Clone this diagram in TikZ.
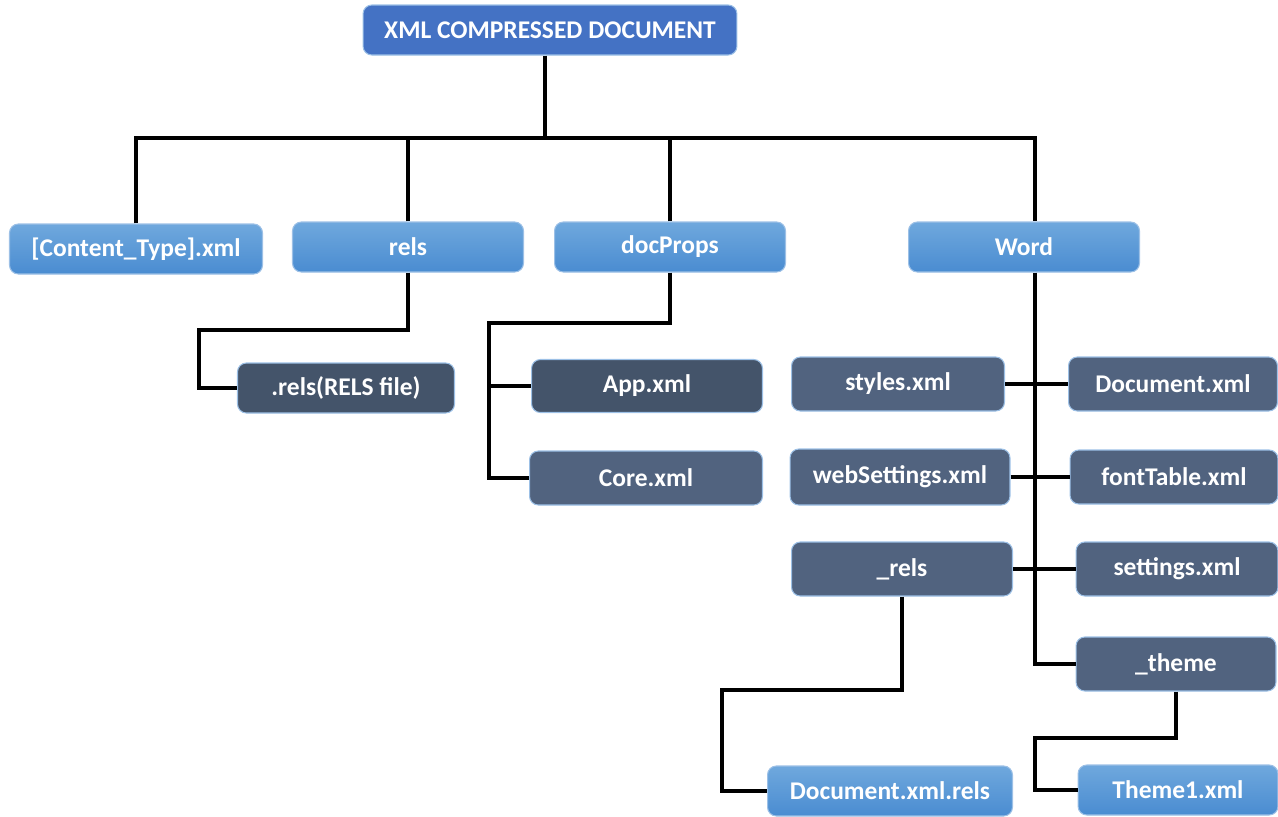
\documentclass[tikz,border=0pt]{standalone}
\usepackage{fontspec}
\setmainfont{Carlito}
\usepackage{tikz}
\usetikzlibrary{positioning}

\definecolor{topblue}{HTML}{4472C4}
\definecolor{lighttop}{HTML}{6FA8DD}
\definecolor{lightbot}{HTML}{4A8CD1}
\definecolor{slate}{HTML}{51637F}
\definecolor{deepslate}{HTML}{44546A}
\definecolor{rim}{HTML}{9CC0E6}

\tikzset{
  box/.style={rounded corners=5pt, draw=rim, line width=0.6pt, text=white,
    font=\fontsize{14.5}{16}\selectfont\bfseries, minimum height=1cm, inner sep=2pt},
  topbox/.style={box, fill=topblue},
  lightbox/.style={box, top color=lighttop, bottom color=lightbot},
  darkbox/.style={box, fill=slate},
  deepbox/.style={box, fill=deepslate},
  wire/.style={draw=black, line width=1.8pt}
}

\begin{document}
\begin{tikzpicture}[x=0.02cm, y=-0.02cm]
  \useasboundingbox (0,0) rectangle (1278,816);

  % Define nodes
  \node[topbox, minimum width=7.48cm]   (xml)      at (550,30)  {XML COMPRESSED DOCUMENT};
  \node[lightbox, minimum width=5.06cm] (ctype)    at (136,249) {[Content\_Type].xml};
  \node[lightbox, minimum width=4.62cm] (rels)     at (408,247) {rels};
  \node[lightbox, minimum width=4.62cm] (docprops) at (670,247) {docProps};
  \node[lightbox, minimum width=4.62cm] (word)     at (1024,247) {Word};

  \node[deepbox, minimum width=4.34cm]  (relsfile) at (346,388) {.rels(RELS file)};
  \node[deepbox, minimum width=4.62cm, minimum height=1.06cm] (app) at (647,386) {App.xml};
  \node[darkbox, minimum width=4.66cm, minimum height=1.08cm] (core) at (646,478) {Core.xml};

  \node[darkbox, minimum width=4.26cm, minimum height=1.08cm] (styles)   at (898,384)  {styles.xml};
  \node[darkbox, minimum width=4.18cm, minimum height=1.08cm] (document) at (1173,384) {Document.xml};
  \node[darkbox, minimum width=4.40cm, minimum height=1.12cm] (websets)  at (900,477)  {webSettings.xml};
  \node[darkbox, minimum width=4.16cm, minimum height=1.08cm] (fonttab)  at (1174,477) {fontTable.xml};
  \node[darkbox, minimum width=4.42cm, minimum height=1.08cm] (wrels)    at (902,569)  {\_rels};
  \node[darkbox, minimum width=4.04cm, minimum height=1.08cm] (settings) at (1177,569) {settings.xml};
  \node[darkbox, minimum width=4.00cm, minimum height=1.08cm] (theme)    at (1176,664) {\_theme};

  \node[lightbox, minimum width=4.90cm] (docrels) at (890,791)  {Document.xml.rels};
  \node[lightbox, minimum width=4.00cm] (theme1)  at (1178,790) {Theme1.xml};

  % Bends of the wires
  \coordinate (bus)    at (545,138);
  \coordinate (wtrunk) at (1035,138);
  \coordinate (rbend)  at (199,330);
  \coordinate (dbend)  at (489,323);
  \coordinate (wrbend) at (722,690);
  \coordinate (tbend)  at (1035,738);

  % Connect the nodes
  \draw[wire] (xml.south -| bus) -- (bus);
  \draw[wire] (ctype.north) |- (wtrunk) -- (wtrunk |- word.north);
  \draw[wire] (rels.north) -- (rels.north |- bus);
  \draw[wire] (docprops.north) -- (docprops.north |- bus);

  \draw[wire] (rels.south) |- (rbend) |- (relsfile.west);
  \draw[wire] (docprops.south) |- (dbend) |- (core.west);
  \draw[wire] (dbend |- app.west) -- (app.west);

  \draw[wire] (wtrunk |- word.south) |- (theme.west);
  \draw[wire] (styles.east) -- (document.west);
  \draw[wire] (websets.east) -- (fonttab.west);
  \draw[wire] (wrels.east) -- (settings.west);

  \draw[wire] (wrels.south) |- (wrbend) |- (docrels.west);
  \draw[wire] (theme.south) |- (tbend) |- (theme1.west);

\end{tikzpicture}
\end{document}
